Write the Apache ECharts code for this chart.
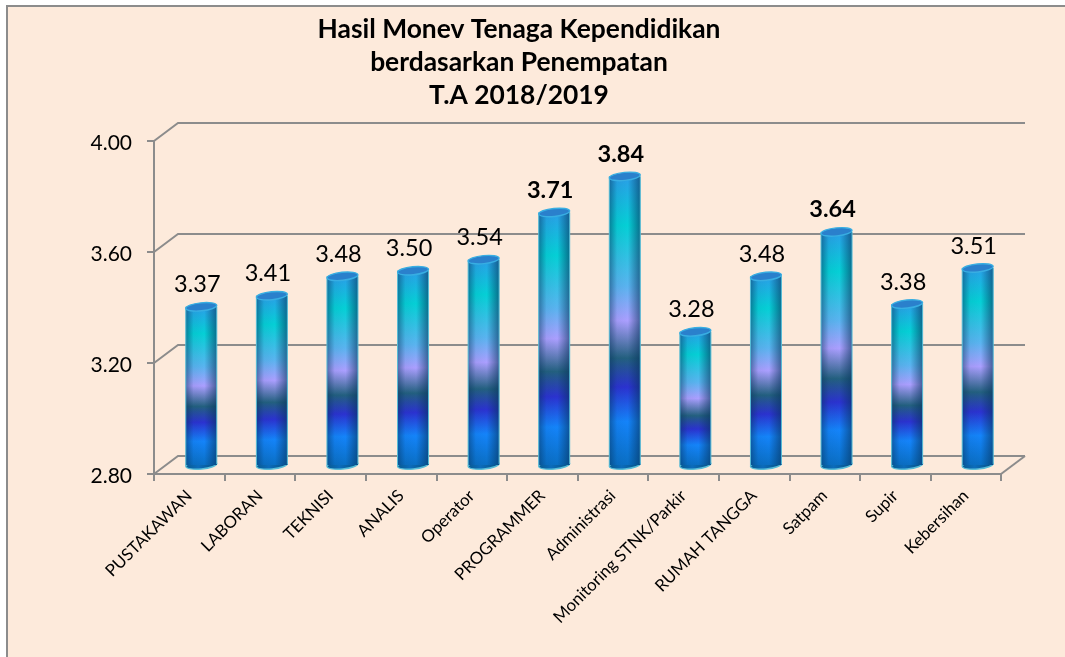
<!DOCTYPE html>
<html>
<head>
<meta charset="utf-8">
<style>
html, body { margin: 0; padding: 0; background: #fff; }
#frame { position: absolute; left: 6px; top: 5px; width: 1059px; height: 652px; background: #fdeadb; border-left: 2px solid #8c8c8c; border-top: 2px solid #8c8c8c; box-sizing: border-box; }
#chart { position: absolute; left: 0; top: 0; width: 1065px; height: 657px; }
</style>
</head>
<body>
<div id="frame"></div>
<div id="chart"></div>
<script src="https://cdn.jsdelivr.net/npm/echarts@6/dist/echarts.min.js"></script>
<script>
var categories = ['PUSTAKAWAN', 'LABORAN', 'TEKNISI', 'ANALIS', 'Operator', 'PROGRAMMER', 'Administrasi',
    'Monitoring STNK/Parkir', 'RUMAH TANGGA', 'Satpam', 'Supir', 'Kebersihan'];
var scores = [3.37, 3.41, 3.48, 3.50, 3.54, 3.71, 3.84, 3.28, 3.48, 3.64, 3.38, 3.51];
var boldCategories = ['PROGRAMMER', 'Administrasi', 'Satpam'];
var axisTicks = [2.80, 3.20, 3.60, 4.00];
var titleLines = ['Hasil Monev Tenaga Kependidikan', 'berdasarkan Penempatan', 'T.A 2018/2019'];

var FONT = 'Lato, "Open Sans", sans-serif';
var GRID_COLOR = '#8c8c8c';
var DEPTH_X = 24, DEPTH_Y = 18;
var BAR_W = 31;

// colours down the height of a column
var bodyFill = {
    type: 'linear', x: 0, y: 0, x2: 0, y2: 1,
    colorStops: [
        { offset: 0, color: '#2a9fe8' },
        { offset: 0.17, color: '#05d0d6' },
        { offset: 0.38, color: '#5ab4f0' },
        { offset: 0.50, color: '#ab9fff' },
        { offset: 0.63, color: '#23607f' },
        { offset: 0.73, color: '#2b32d0' },
        { offset: 0.85, color: '#1484fa' },
        { offset: 1, color: '#0a6fc4' }
    ]
};
// dark edges so that it reads as a round column
var edgeShade = {
    type: 'linear', x: 0, y: 0, x2: 1, y2: 0,
    colorStops: [
        { offset: 0, color: 'rgba(6,50,90,0.5)' },
        { offset: 0.25, color: 'rgba(6,50,90,0.06)' },
        { offset: 0.6, color: 'rgba(6,50,90,0)' },
        { offset: 1, color: 'rgba(6,50,90,0.6)' }
    ]
};
var baseFill = {
    type: 'linear', x: 0, y: 0, x2: 1, y2: 0,
    colorStops: [
        { offset: 0, color: '#08598f' },
        { offset: 0.4, color: '#0b6cbc' },
        { offset: 1, color: '#07507f' }
    ]
};

function renderWall(params, api) {
    var cs = params.coordSys;
    var y = api.coord([0, api.value(0)])[1];
    var left = cs.x, right = cs.x + cs.width;
    var style = { stroke: GRID_COLOR, lineWidth: 2, fill: null };
    var children = [{
        type: 'polyline',
        shape: { points: [[left, y], [left + DEPTH_X, y - DEPTH_Y], [right + DEPTH_X, y - DEPTH_Y]] },
        style: style
    }];
    if (params.dataIndex === 0) {
        children.push({
            type: 'line',
            shape: { x1: right, y1: y, x2: right + DEPTH_X, y2: y - DEPTH_Y },
            style: style
        });
    }
    return { type: 'group', children: children };
}

function renderColumn(params, api) {
    var idx = api.value(0);
    var top = api.coord([idx, api.value(1)]);
    var base = api.coord([idx, axisTicks[0]]);
    var cx = top[0] + DEPTH_X / 2;
    var yt = top[1] - DEPTH_Y / 2;
    var yb = base[1] - DEPTH_Y / 2;
    var x0 = cx - BAR_W / 2;
    var rx = BAR_W / 2, ry = 4, tilt = 0.1;
    var isBold = boldCategories.indexOf(categories[idx]) >= 0;
    var rimColor = '#57bcd6';
    return {
        type: 'group',
        children: [
            {
                type: 'ellipse', shape: { cx: 0, cy: 0, rx: rx, ry: ry }, x: cx, y: yb, rotation: tilt,
                style: { fill: baseFill, stroke: rimColor, lineWidth: 1.4 }
            },
            {
                type: 'rect', shape: { x: x0, y: yt, width: BAR_W, height: yb - yt },
                style: { fill: bodyFill }
            },
            {
                type: 'rect', shape: { x: x0, y: yt, width: BAR_W, height: yb - yt },
                style: { fill: edgeShade }
            },
            {
                type: 'line', shape: { x1: x0, y1: yt, x2: x0, y2: yb + 1 },
                style: { stroke: rimColor, lineWidth: 1 }
            },
            {
                type: 'line', shape: { x1: x0 + BAR_W, y1: yt, x2: x0 + BAR_W, y2: yb - 1 },
                style: { stroke: rimColor, lineWidth: 1 }
            },
            {
                type: 'ellipse', shape: { cx: 0, cy: 0, rx: rx, ry: ry }, x: cx, y: yt, rotation: tilt,
                style: { fill: '#2a80cc', stroke: '#38aee2', lineWidth: 1.4 }
            },
            {
                type: 'text', x: cx - 4, y: yt - 22,
                style: {
                    text: api.value(1).toFixed(2), fill: '#000', align: 'center', verticalAlign: 'middle',
                    font: (isBold ? 'bold ' : '') + '23.5px ' + FONT
                }
            }
        ]
    };
}

var chart = echarts.init(document.getElementById('chart'), null, { renderer: 'canvas' });
chart.setOption({
    backgroundColor: 'transparent',
    animation: false,
    textStyle: { fontFamily: FONT },
    title: {
        text: titleLines.join('\n'),
        left: 514, top: 8, textAlign: 'center',
        textStyle: { fontFamily: FONT, fontSize: 26.4, fontWeight: 'bold', color: '#000', lineHeight: 33 }
    },
    grid: { left: 154, right: 64, top: 141, height: 333 },
    xAxis: {
        type: 'category',
        data: categories,
        axisLine: { show: true, lineStyle: { color: GRID_COLOR, width: 2 } },
        axisTick: { show: true, length: 7, alignWithLabel: false, lineStyle: { color: GRID_COLOR, width: 2 } },
        axisLabel: { interval: 0, rotate: 45, margin: 19, fontSize: 16.8, color: '#000', fontFamily: FONT }
    },
    yAxis: {
        type: 'value',
        min: 2.8, max: 4, interval: 0.4,
        splitLine: { show: false },
        axisLine: { show: true, lineStyle: { color: GRID_COLOR, width: 2 } },
        axisTick: { show: true, length: 7, lineStyle: { color: GRID_COLOR, width: 2 } },
        axisLabel: {
            margin: 22, fontSize: 21, color: '#000', fontFamily: FONT, verticalAlign: 'top', lineHeight: 4,
            formatter: function (v) { return v.toFixed(2); }
        }
    },
    series: [
        {
            type: 'custom', silent: true, z: 1,
            coordinateSystem: 'cartesian2d',
            encode: { y: 0 },
            data: axisTicks.map(function (t) { return [t]; }),
            renderItem: renderWall,
            clip: false
        },
        {
            type: 'custom', silent: true, z: 2,
            coordinateSystem: 'cartesian2d',
            encode: { x: 0, y: 1 },
            data: scores.map(function (v, i) { return [i, v]; }),
            renderItem: renderColumn,
            clip: false
        }
    ]
});
</script>
</body>
</html>
